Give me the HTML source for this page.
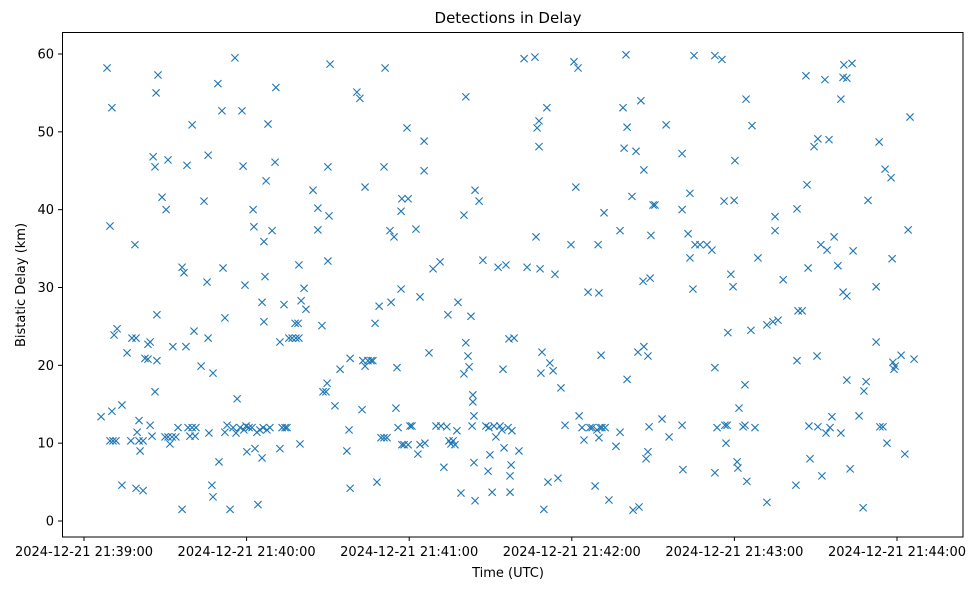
<!DOCTYPE html>
<html>
<head>
<meta charset="utf-8">
<style>
  html,body{margin:0;padding:0;background:#fff;}
  svg{display:block;font-family:"DejaVu Sans","Liberation Sans",sans-serif;}
</style>
</head>
<body>
<svg id="chart" width="979" height="590" viewBox="0 0 979 590">
  <rect x="0" y="0" width="979" height="590" fill="#fff"/>
  <text x="508" y="23" font-size="15" text-anchor="middle" fill="#000">Detections in Delay</text>
  <g id="marks"></g>
  <g id="axes"></g>
  <rect x="62.5" y="32.5" width="900.5" height="504.5" fill="none" stroke="#000" stroke-width="1"/>
  <text x="508" y="577" font-size="13" text-anchor="middle">Time (UTC)</text>
  <text x="25" y="285" font-size="13" text-anchor="middle" transform="rotate(-90 25 285)">Bistatic Delay (km)</text>
</svg>
<script>
// seconds after 2024-12-21 21:39:00 UTC
const times = [6.3,8.5,9.6,10.3,9.6,10.7,11.8,10.3,11.1,12.2,14.0,14.0,15.9,17.3,17.7,19.2,18.8,19.2,19.6,20.3,20.3,20.7,21.8,21.8,22.5,23.6,23.6,24.4,24.4,25.1,25.5,26.2,26.2,26.6,27.3,26.9,26.9,28.8,29.9,30.3,31.0,31.0,31.7,32.5,32.8,33.9,34.7,36.2,36.9,36.2,37.6,38.0,38.4,39.1,39.9,39.9,40.6,41.0,41.3,43.2,44.3,45.4,45.8,45.8,46.1,47.2,47.6,47.6,49.4,49.8,50.9,51.3,52.0,52.0,52.8,53.9,55.0,55.7,56.1,56.5,57.6,58.3,58.7,59.0,59.4,59.8,60.1,60.9,62.0,62.4,62.7,63.1,63.8,64.2,64.9,65.7,65.7,66.1,66.4,66.4,66.8,67.2,67.5,67.9,68.6,69.4,70.5,70.8,72.3,72.3,73.1,73.8,74.2,74.9,75.6,76.8,77.9,78.2,79.3,79.0,79.3,79.7,80.1,81.2,81.9,84.5,86.3,86.3,87.8,88.2,89.3,89.7,90.0,90.0,90.4,90.8,92.6,94.5,97.0,97.8,98.2,98.2,100.7,101.8,102.6,102.9,103.7,103.7,104.8,105.9,106.6,107.4,108.1,108.9,109.6,110.7,110.7,111.1,111.8,112.9,113.3,114.4,115.1,115.5,115.9,117.0,117.0,117.3,117.3,118.1,119.2,119.6,119.6,120.3,121.0,122.5,123.2,124.0,124.0,125.5,125.5,125.8,127.3,128.8,129.9,131.4,131.7,132.8,133.9,134.3,134.7,135.4,136.2,136.9,137.6,138.0,139.1,140.2,140.2,140.9,140.9,141.7,142.1,142.8,143.2,143.5,143.5,143.9,143.9,144.3,144.3,145.8,147.2,148.3,149.1,149.4,149.8,150.6,151.3,152.0,152.8,153.5,154.2,154.6,155.0,155.7,156.5,156.8,157.2,157.2,157.6,157.9,158.7,160.5,162.4,163.5,166.4,166.8,167.2,167.9,167.9,168.3,168.6,169.0,169.7,170.8,171.2,171.9,173.1,173.8,174.9,176.0,177.5,179.7,180.8,181.5,182.3,182.7,183.8,184.5,186.0,186.7,187.5,188.6,189.3,189.7,190.0,190.0,190.4,190.8,191.1,191.9,192.3,193.7,196.3,197.8,197.8,198.9,199.3,200.0,200.4,200.4,202.2,202.6,203.7,204.4,204.8,205.5,206.3,206.6,206.6,207.4,208.1,208.1,208.5,208.9,209.2,210.0,210.7,213.3,214.8,215.9,220.7,220.7,220.7,221.0,222.9,223.6,223.6,224.7,225.1,225.5,227.3,229.9,231.7,232.8,232.8,232.8,233.6,235.4,236.2,236.5,236.9,237.3,237.6,238.7,239.5,239.9,240.2,241.0,241.3,241.7,243.2,243.9,243.9,244.3,244.6,246.1,246.5,247.6,248.7,252.0,252.0,254.2,255.0,255.0,256.1,258.0,262.7,263.1,263.1,263.5,265.0,266.4,266.8,267.2,267.5,267.9,269.4,270.5,270.8,270.8,271.9,272.3,273.4,273.8,274.2,274.9,275.3,276.0,276.8,278.2,279.3,279.3,280.1,280.4,281.5,281.5,281.5,280.1,282.7,283.4,283.8,286.0,287.5,287.8,288.6,289.3,292.3,292.3,293.4,293.7,294.8,295.6,296.3,297.8,298.2,298.5,298.9,299.3,301.5,302.9,304.1,304.8,306.3];
const delays = [13.4,58.2,37.9,53.1,10.3,10.3,10.3,14.1,23.9,24.7,14.9,4.6,21.6,10.3,23.5,23.5,35.5,4.2,11.4,12.9,10.3,9.0,10.3,3.9,20.9,20.8,22.7,12.3,23.0,10.9,46.8,45.5,16.6,55.0,57.3,26.5,20.6,41.6,10.8,40.0,46.4,10.8,9.9,10.8,22.4,10.8,12.0,32.6,31.9,1.5,22.4,45.7,12.0,10.9,50.9,12.0,24.4,10.9,12.0,19.9,41.1,30.7,47.0,23.5,11.3,4.6,3.1,19.0,56.2,7.6,52.7,32.5,26.1,11.4,12.3,1.5,12.0,59.5,11.3,15.7,12.0,52.7,45.6,11.7,30.3,12.2,8.9,12.0,12.0,40.0,37.8,9.3,11.4,2.1,11.7,28.1,8.1,12.0,35.9,25.6,31.4,43.7,11.7,51.0,12.0,37.3,46.1,55.7,23.0,9.3,12.0,27.8,12.0,12.0,23.5,23.5,25.4,23.5,23.5,25.4,32.9,9.9,28.3,29.9,27.2,42.5,40.2,37.4,25.1,16.6,16.6,17.7,45.5,33.4,39.2,58.7,14.8,19.5,9.0,11.7,4.2,20.9,55.1,54.3,14.3,20.6,42.9,19.9,20.6,20.6,20.6,25.4,5.0,27.6,10.7,10.7,45.5,58.2,10.7,37.3,28.1,36.5,14.5,19.7,12.0,39.8,29.8,41.4,9.8,9.8,50.5,41.4,9.8,12.2,12.2,37.5,8.6,28.8,9.8,48.8,45.0,10.0,21.6,32.4,12.2,33.3,12.2,6.9,12.1,26.5,10.3,9.9,10.3,9.8,11.6,28.1,3.6,39.3,18.9,54.5,22.9,21.2,19.8,26.3,12.2,16.2,15.3,7.5,13.5,2.6,42.5,41.1,33.5,12.2,6.4,12.0,8.5,3.7,12.2,10.8,32.6,12.2,11.7,19.5,9.4,32.9,12.0,23.4,5.8,3.7,7.2,11.6,23.5,9.0,59.4,32.6,59.6,36.5,50.5,51.4,48.1,32.4,19.0,21.7,1.5,53.1,5.0,20.3,19.3,31.7,5.5,17.1,12.3,35.5,59.0,42.9,58.2,13.5,12.0,10.4,29.4,12.0,12.0,4.5,11.7,35.5,29.3,10.7,12.0,21.3,12.0,39.6,12.0,2.7,9.6,37.3,11.4,53.1,47.9,59.9,50.6,18.2,41.7,1.4,47.5,21.7,1.8,54.0,30.8,22.4,45.1,8.0,8.9,21.2,12.1,31.2,36.7,40.6,40.6,13.1,50.9,10.8,47.2,40.0,12.3,6.6,36.9,42.1,33.8,29.8,59.8,35.5,35.5,35.5,34.8,59.8,19.7,6.2,12.0,59.3,41.1,12.3,10.0,12.3,24.2,31.7,30.1,41.2,46.3,7.6,6.8,14.5,12.1,17.5,12.3,54.2,5.1,24.5,50.8,12.0,33.8,2.4,25.2,25.6,37.3,39.1,25.8,31.0,4.6,40.1,20.6,27.0,27.0,57.2,43.2,32.5,12.2,8.0,48.1,21.2,49.1,12.1,35.5,5.8,56.7,11.3,34.8,49.0,12.0,13.4,36.5,32.8,54.2,11.3,57.0,58.6,56.9,18.1,28.9,29.4,6.7,58.8,34.7,13.5,1.7,16.7,17.9,41.2,23.0,30.1,48.7,12.1,12.1,45.2,10.0,44.1,33.7,20.4,19.5,19.9,21.3,8.6,37.4,51.9,20.8];
const xTickSeconds = [0,60,120,180,240,300];
const xTickLabels = ["2024-12-21 21:39:00","2024-12-21 21:40:00","2024-12-21 21:41:00","2024-12-21 21:42:00","2024-12-21 21:43:00","2024-12-21 21:44:00"];
const yTicks = [0,10,20,30,40,50,60];

const NS = "http://www.w3.org/2000/svg";
function xScale(s){ return 84 + s * (813/300); }
function yScale(v){ return 521 - v * (467/60); }

const marks = document.getElementById('marks');
for (let i = 0; i < times.length; i++) {
  const cx = xScale(times[i]), cy = yScale(delays[i]), r = 3.6;
  const p = document.createElementNS(NS, 'path');
  p.setAttribute('d', `M${cx-r},${cy-r}L${cx+r},${cy+r}M${cx-r},${cy+r}L${cx+r},${cy-r}`);
  p.setAttribute('stroke', '#1f77b4');
  p.setAttribute('stroke-width', '1.1');
  p.setAttribute('fill', 'none');
  
  
  marks.appendChild(p);
}

const axes = document.getElementById('axes');
for (let i = 0; i < xTickSeconds.length; i++) {
  const x = xScale(xTickSeconds[i]);
  const t = document.createElementNS(NS, 'line');
  t.setAttribute('x1', x); t.setAttribute('x2', x);
  t.setAttribute('y1', 537); t.setAttribute('y2', 541);
  t.setAttribute('stroke', '#000');
  
  
  axes.appendChild(t);
  const lb = document.createElementNS(NS, 'text');
  lb.setAttribute('x', x); lb.setAttribute('y', 556);
  lb.setAttribute('font-size', '13');
  lb.setAttribute('text-anchor', 'middle');
  lb.textContent = xTickLabels[i];
  
  
  axes.appendChild(lb);
}
for (let i = 0; i < yTicks.length; i++) {
  const y = yScale(yTicks[i]);
  const t = document.createElementNS(NS, 'line');
  t.setAttribute('x1', 58); t.setAttribute('x2', 62);
  t.setAttribute('y1', y); t.setAttribute('y2', y);
  t.setAttribute('stroke', '#000');
  
  
  axes.appendChild(t);
  const lb = document.createElementNS(NS, 'text');
  lb.setAttribute('x', 54); lb.setAttribute('y', y + 4.5);
  lb.setAttribute('font-size', '13');
  lb.setAttribute('text-anchor', 'end');
  lb.textContent = String(yTicks[i]);
  
  
  axes.appendChild(lb);
}
</script>
</body>
</html>
